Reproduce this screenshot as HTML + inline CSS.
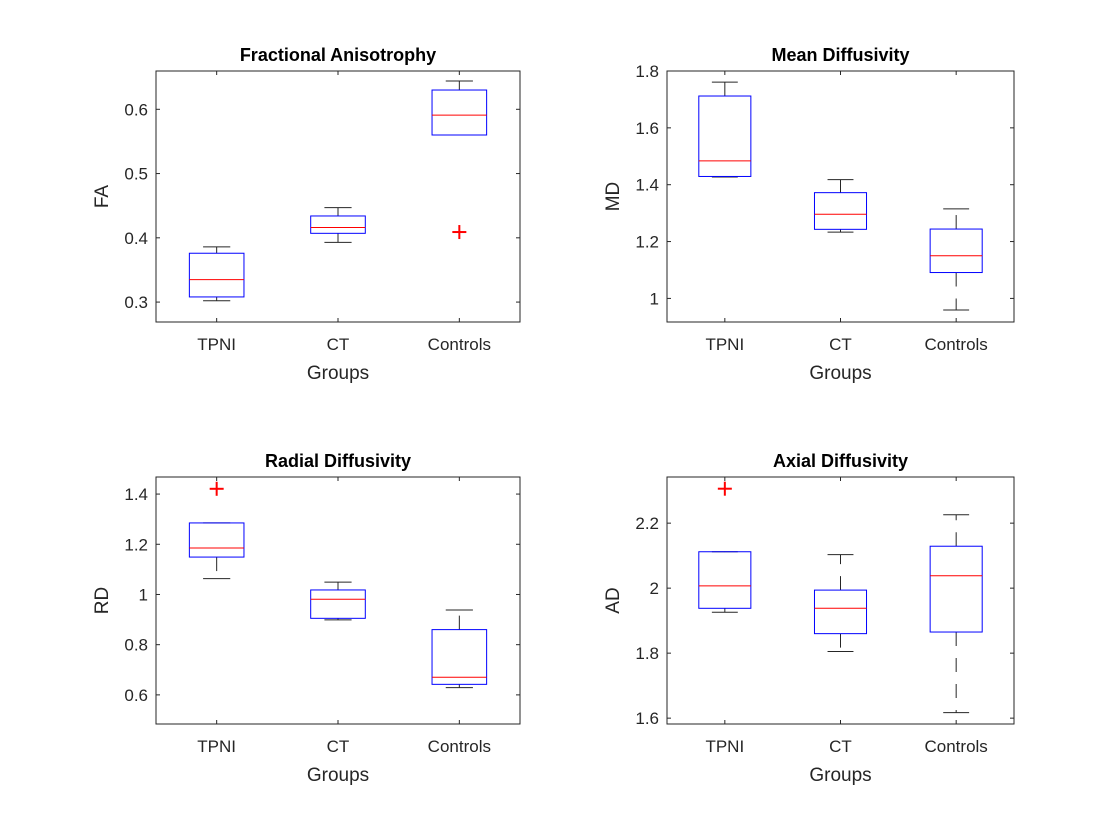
<!DOCTYPE html>
<html><head><meta charset="utf-8"><style>
body{margin:0;background:#fff}
svg{display:block;font-family:"Liberation Sans",Arial,sans-serif}
</style></head><body>
<svg id="fig" width="1120" height="840" viewBox="0 0 1120 840">
<rect width="1120" height="840" fill="#fff"/>
</svg>
<script>
const categories = ["TPNI","CT","Controls"];
const faStats = [[0.302,0.308,0.335,0.376,0.386],[0.393,0.407,0.416,0.434,0.447],[0.560,0.560,0.591,0.630,0.644]];
const faOutliers = [[],[],[0.409]];
const faTicks = [0.3,0.4,0.5,0.6];
const mdStats = [[1.427,1.429,1.484,1.712,1.761],[1.233,1.243,1.296,1.372,1.418],[0.959,1.091,1.150,1.244,1.315]];
const mdOutliers = [[],[],[]];
const mdTicks = [1,1.2,1.4,1.6,1.8];
const rdStats = [[1.063,1.149,1.185,1.285,1.285],[0.899,0.905,0.981,1.018,1.049],[0.629,0.642,0.670,0.860,0.938]];
const rdOutliers = [[1.421],[],[]];
const rdTicks = [0.6,0.8,1,1.2,1.4];
const adStats = [[1.926,1.938,2.007,2.112,2.112],[1.805,1.860,1.938,1.994,2.103],[1.617,1.865,2.038,2.129,2.226]];
const adOutliers = [[2.306],[],[]];
const adTicks = [1.6,1.8,2,2.2];

const NS="http://www.w3.org/2000/svg";
const svg=document.getElementById('fig');
function mk(tag,attrs,parent){const e=document.createElementNS(NS,tag);for(const k in attrs)e.setAttribute(k,attrs[k]);(parent||svg).appendChild(e);return e;}

const panels=[
 {key:'fa',title:'Fractional Anisotrophy',yl:'FA',stats:faStats,out:faOutliers,ticks:faTicks,L:156,R:520,T:71,B:322,ymin:0.269,ymax:0.6596,fmt:v=>v.toFixed(1)},
 {key:'md',title:'Mean Diffusivity',yl:'MD',stats:mdStats,out:mdOutliers,ticks:mdTicks,L:667,R:1014,T:71,B:322,ymin:0.917,ymax:1.8,fmt:v=>(v===1?'1':v.toFixed(1))},
 {key:'rd',title:'Radial Diffusivity',yl:'RD',stats:rdStats,out:rdOutliers,ticks:rdTicks,L:156,R:520,T:477,B:724,ymin:0.484,ymax:1.468,fmt:v=>(v===1?'1':v.toFixed(1))},
 {key:'ad',title:'Axial Diffusivity',yl:'AD',stats:adStats,out:adOutliers,ticks:adTicks,L:667,R:1014,T:477,B:724,ymin:1.582,ymax:2.342,fmt:v=>(v===2?'2':v.toFixed(1))}
];

panels.forEach(p=>{
 const g=mk('g',{});
 
 
 const X=v=>p.L+(v-0.5)/3*(p.R-p.L);
 const Y=v=>p.B-(v-p.ymin)/(p.ymax-p.ymin)*(p.B-p.T);
 const unit=(p.R-p.L)/3;
 const ax=mk('rect',{x:p.L,y:p.T,width:p.R-p.L,height:p.B-p.T,fill:'none',stroke:'#262626','stroke-width':1},g);
 
 
 p.ticks.forEach(t=>{
  const y=Y(t);
  mk('line',{x1:p.L,x2:p.L+4,y1:y,y2:y,stroke:'#262626'},g);
  mk('line',{x1:p.R,x2:p.R-4,y1:y,y2:y,stroke:'#262626'},g);
  const tx=mk('text',{x:p.L-8,y:y+6,'text-anchor':'end','font-size':17,fill:'#262626'},g);
  tx.textContent=p.fmt(t);
  
  
 });
 categories.forEach((c,i)=>{
  const x=X(i+1);
  mk('line',{x1:x,x2:x,y1:p.B,y2:p.B-4,stroke:'#262626'},g);
  mk('line',{x1:x,x2:x,y1:p.T,y2:p.T+4,stroke:'#262626'},g);
  const tx=mk('text',{x:x,y:p.B+28,'text-anchor':'middle','font-size':17,fill:'#262626'},g);
  tx.textContent=c;
  
  
  const s=p.stats[i];
  const hw=unit*0.225, cw=unit*0.112;
  const bg=mk('g',{},g);
  
  
  mk('line',{x1:x,x2:x,y1:Y(s[3]),y2:Y(s[4]),stroke:'#262626','stroke-dasharray':'14 12'},bg);
  mk('line',{x1:x,x2:x,y1:Y(s[1]),y2:Y(s[0]),stroke:'#262626','stroke-dasharray':'14 12'},bg);
  mk('line',{x1:x-cw,x2:x+cw,y1:Y(s[4]),y2:Y(s[4]),stroke:'#262626'},bg);
  mk('line',{x1:x-cw,x2:x+cw,y1:Y(s[0]),y2:Y(s[0]),stroke:'#262626'},bg);
  mk('rect',{x:x-hw,y:Y(s[3]),width:2*hw,height:Y(s[1])-Y(s[3]),fill:'none',stroke:'#0000ff'},bg);
  mk('line',{x1:x-hw,x2:x+hw,y1:Y(s[2]),y2:Y(s[2]),stroke:'#ff0000'},bg);
  p.out[i].forEach(o=>{
   const y=Y(o);
   const og=mk('g',{stroke:'#ff0000','stroke-width':2},bg);
   
   
   mk('line',{x1:x-7,x2:x+7,y1:y,y2:y},og);
   mk('line',{x1:x,x2:x,y1:y-7,y2:y+7},og);
  });
 });
 const ti=mk('text',{x:(p.L+p.R)/2,y:p.T-10,'text-anchor':'middle','font-size':18,'font-weight':'bold',fill:'#000'},g);
 ti.textContent=p.title;
 
 
 const xl=mk('text',{x:(p.L+p.R)/2,y:p.B+57,'text-anchor':'middle','font-size':19,fill:'#262626'},g);
 xl.textContent='Groups';
 
 
 const cy=(p.T+p.B)/2, lx=p.L-48;
 const yl=mk('text',{x:lx,y:cy,'text-anchor':'middle','font-size':19,fill:'#262626',transform:'rotate(-90 '+lx+' '+cy+')'},g);
 yl.textContent=p.yl;
 
 
});
</script>
</body></html>
